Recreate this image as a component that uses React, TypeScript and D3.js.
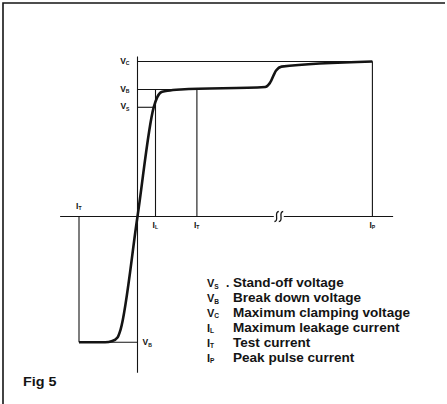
import * as d3 from "d3";

// V-I characteristic of a transient suppressor (schematic units: V_B = 1, I_L = 1)
const curveCurrent = [-3.25, -1.8, -1.4, -1.1, -0.94, 0, 0.9, 1.1, 1.33, 1.67, 2.4, 7.1, 7.35, 7.7, 8.0, 13.05];
const curveVoltage = [-0.99, -0.99, -0.98, -0.95, -0.89, 0, 0.86, 0.94, 0.98, 0.99, 1.0, 1.02, 1.05, 1.15, 1.18, 1.22];

const voltageSubs = ["C", "B", "S"];
const voltageValues = [1.22, 1.0, 0.86];
const voltageEnds = [13.05, 3.3, 0.9]; // current where each level line stops

const currentSubs = ["L", "T", "P"];
const currentValues = [1, 3.3, 13.05];
const currentTops = [1.0, 1.0, 1.22];

const reverseCurrent = -3.25;
const reverseVoltage = -0.99;
const breakAt = 7.85;

const xExtent = [-4.3, 14.2];
const yExtent = [-1.23, 1.26];

const legendMain = ["V", "V", "V", "I", "I", "I"];
const legendSubs = ["S", "B", "C", "L", "T", "P"];
const legendTexts = [
  "Stand-off voltage",
  "Break down voltage",
  "Maximum clamping voltage",
  "Maximum leakage current",
  "Test current",
  "Peak pulse current",
];

const W = 447;
const H = 404;
const ink = "#141414";
const font = "'Liberation Sans', Arial, sans-serif";

const x = d3.scaleLinear().domain([0, 1]).range([137.5, 155.5]);
const y = d3.scaleLinear().domain([0, 1]).range([216.5, 89.5]);

const Sym = ({ cx, cy, main, sub, size = 8.5, anchor = "start" }) => (
  <text x={cx} y={cy} fontSize={size} textAnchor={anchor} fontFamily={font} fill={ink}
    fontWeight="bold">
    {main}
    <tspan fontSize={size * 0.6} dy={size * 0.15}>{sub}</tspan>
  </text>
);

export default function App() {
  const pts = curveCurrent.map((c, i) => [c, curveVoltage[i]]);
  const line = d3.line().x(d => x(d[0])).y(d => y(d[1])).curve(d3.curveMonotoneX);

  const bx = x(breakAt);
  const by = y(0);
  const squiggle = (ox) =>
    `M${ox + 2.2},${by - 5} Q${ox - 0.5},${by - 5} ${ox},${by} Q${ox + 0.5},${by + 5} ${ox - 2.2},${by + 5}`;

  const thin = { stroke: ink, strokeWidth: 1.1, fill: "none" };

  return (
    <svg width={W} height={H} style={{ position: "fixed", left: 0, top: 0, background: "#fff" }}>
      {/* frame */}
      <path d={`M3,${H} V3 H445`} stroke={ink} strokeWidth={1.6} fill="none" />

      {/* axes */}
      <line x1={x(xExtent[0])} x2={x(xExtent[1])} y1={y(0)} y2={y(0)} {...thin} />
      <line x1={x(0)} x2={x(0)} y1={y(yExtent[0])} y2={y(yExtent[1])} {...thin} />

      {/* voltage levels */}
      {voltageValues.map((v, i) => (
        <g key={"v" + i}>
          <line x1={x(0)} x2={x(voltageEnds[i])} y1={y(v)} y2={y(v)} {...thin} />
          <Sym cx={x(0) - 8} cy={y(v) + 2} main="V" sub={voltageSubs[i]} anchor="end" />
        </g>
      ))}

      {/* current levels */}
      {currentValues.map((c, i) => (
        <g key={"c" + i}>
          <line x1={x(c)} x2={x(c)} y1={y(0)} y2={y(currentTops[i])} {...thin} />
          <Sym cx={x(c) - 3} cy={y(0) + 11} main="I" sub={currentSubs[i]} />
        </g>
      ))}

      {/* reverse side */}
      <line x1={x(reverseCurrent)} x2={x(reverseCurrent)} y1={y(0)} y2={y(reverseVoltage)} {...thin} />
      <line x1={x(reverseCurrent)} x2={x(0)} y1={y(reverseVoltage)} y2={y(reverseVoltage)} {...thin} />
      <Sym cx={x(reverseCurrent) - 3} cy={y(0) - 8} main="I" sub="T" />
      <Sym cx={x(0) + 5} cy={y(reverseVoltage) + 3} main="V" sub="B" />

      {/* axis break */}
      <rect x={bx - 5} y={by - 1.5} width={10} height={3} fill="#fff" />
      <path d={squiggle(bx - 2.2)} {...thin} strokeWidth={1.3} />
      <path d={squiggle(bx + 2.2)} {...thin} strokeWidth={1.3} />

      {/* characteristic */}
      <path d={line(pts)} stroke={ink} strokeWidth={2.6} fill="none" strokeLinejoin="round" />

      {/* legend */}
      {legendTexts.map((t, i) => {
        const ly = 287 + i * 14.9;
        return (
          <g key={"l" + i}>
            <Sym cx={207} cy={ly} main={legendMain[i]} sub={legendSubs[i]} size={11} />
            {i === 0 && (
              <text x={226} y={ly} fontSize={12} fontWeight="bold" fontFamily={font} fill={ink}>.</text>
            )}
            <g transform={`translate(233,${ly}) scale(1.13,1)`}>
              <text x={0} y={0} fontSize={12} fontWeight="bold" fontFamily={font} fill={ink}>{t}</text>
            </g>
          </g>
        );
      })}

      <g transform="translate(23,386) scale(1.15,1)">
        <text x={0} y={0} fontSize={12.5} fontWeight="bold" fontFamily={font} fill={ink}>Fig 5</text>
      </g>
    </svg>
  );
}
